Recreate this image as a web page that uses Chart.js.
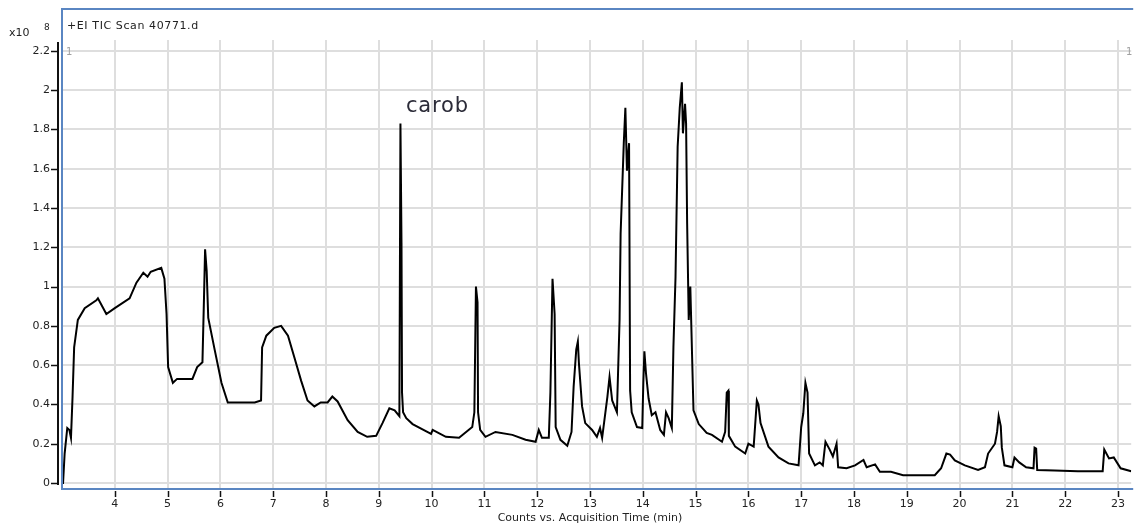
<!DOCTYPE html>
<html>
<head>
<meta charset="utf-8">
<script src="https://cdn.jsdelivr.net/npm/chart.js@4/dist/chart.umd.min.js"></script>
<style>
  html, body { margin: 0; padding: 0; background: #fff; }
  #wrap { width: 1134px; height: 528px; position: relative; }
</style>
</head>
<body>
<div id="wrap"><canvas id="tic"></canvas></div>
<script>
// acquisition time (min) and counts (x10^8)
const times = [
  3.00, 3.02, 3.05, 3.10, 3.14, 3.17, 3.20, 3.23, 3.30, 3.43, 3.65, 3.68, 3.84, 4.00, 4.28, 4.41, 4.54, 4.62, 4.68, 4.88,
  4.94, 4.98, 5.01, 5.10, 5.18, 5.47, 5.56, 5.66, 5.69, 5.71, 5.74, 5.77, 5.89, 6.02, 6.14, 6.40, 6.65, 6.77, 6.79, 6.87,
  7.02, 7.15, 7.28, 7.40, 7.53, 7.65, 7.78, 7.90, 8.03, 8.12, 8.22, 8.41, 8.60, 8.78, 8.95, 9.07, 9.20, 9.30, 9.39, 9.41,
  9.43, 9.44, 9.46, 9.52, 9.64, 9.99, 10.02, 10.27, 10.52, 10.77, 10.81, 10.84, 10.87, 10.88, 10.92, 11.02, 11.21, 11.53, 11.78, 11.97,
  12.03, 12.09, 12.22, 12.25, 12.29, 12.33, 12.35, 12.44, 12.57, 12.65, 12.69, 12.74, 12.77, 12.79, 12.85, 12.91, 13.04, 13.13, 13.19, 13.23,
  13.33, 13.37, 13.42, 13.51, 13.56, 13.58, 13.64, 13.67, 13.70, 13.74, 13.76, 13.79, 13.89, 13.99, 14.01, 14.03, 14.06, 14.11, 14.17, 14.24,
  14.33, 14.40, 14.44, 14.49, 14.55, 14.58, 14.62, 14.66, 14.70, 14.74, 14.76, 14.80, 14.82, 14.84, 14.87, 14.90, 14.96, 15.06, 15.21, 15.31,
  15.50, 15.56, 15.59, 15.62, 15.63, 15.75, 15.94, 16.00, 16.10, 16.16, 16.19, 16.23, 16.38, 16.57, 16.76, 16.95, 17.00, 17.04, 17.08, 17.12,
  17.15, 17.26, 17.35, 17.41, 17.46, 17.54, 17.60, 17.67, 17.70, 17.86, 18.02, 18.18, 18.24, 18.40, 18.49, 18.70, 18.93, 19.53, 19.65, 19.75,
  19.82, 19.91, 20.10, 20.35, 20.48, 20.54, 20.67, 20.71, 20.74, 20.78, 20.80, 20.85, 21.00, 21.04, 21.13, 21.26, 21.40, 21.42, 21.45, 21.47,
  21.80, 22.24, 22.71, 22.74, 22.83, 22.92, 23.05, 23.25
];
const counts = [
  0.00, 0.00, 0.15, 0.28, 0.27, 0.23, 0.44, 0.69, 0.83, 0.89, 0.93, 0.94, 0.86, 0.89, 0.94, 1.02, 1.07, 1.05, 1.075, 1.095,
  1.04, 0.86, 0.59, 0.51, 0.53, 0.53, 0.59, 0.615, 0.95, 1.19, 1.08, 0.84, 0.68, 0.51, 0.41, 0.41, 0.41, 0.42, 0.69, 0.75,
  0.79, 0.80, 0.75, 0.64, 0.52, 0.42, 0.39, 0.41, 0.41, 0.44, 0.415, 0.32, 0.26, 0.235, 0.24, 0.305, 0.38, 0.37, 0.34, 1.83,
  1.22, 0.46, 0.36, 0.33, 0.30, 0.25, 0.27, 0.235, 0.23, 0.285, 0.36, 1.00, 0.92, 0.36, 0.27, 0.235, 0.26, 0.245, 0.22, 0.21,
  0.27, 0.23, 0.23, 0.46, 1.04, 0.86, 0.285, 0.22, 0.19, 0.26, 0.49, 0.68, 0.72, 0.61, 0.39, 0.305, 0.27, 0.235, 0.28, 0.23,
  0.44, 0.54, 0.42, 0.36, 0.83, 1.27, 1.73, 1.91, 1.59, 1.73, 0.47, 0.36, 0.285, 0.28, 0.51, 0.67, 0.56, 0.43, 0.345, 0.36,
  0.27, 0.245, 0.36, 0.33, 0.28, 0.69, 1.05, 1.71, 1.91, 2.04, 1.78, 1.93, 1.83, 1.32, 0.83, 1.00, 0.37, 0.30, 0.255, 0.245,
  0.21, 0.26, 0.46, 0.47, 0.24, 0.185, 0.15, 0.20, 0.185, 0.42, 0.40, 0.305, 0.185, 0.13, 0.10, 0.09, 0.285, 0.355, 0.51, 0.46,
  0.15, 0.09, 0.105, 0.09, 0.21, 0.17, 0.135, 0.20, 0.08, 0.075, 0.09, 0.117, 0.08, 0.095, 0.057, 0.057, 0.04, 0.04, 0.075, 0.15,
  0.145, 0.115, 0.09, 0.066, 0.08, 0.15, 0.20, 0.26, 0.34, 0.29, 0.18, 0.09, 0.08, 0.13, 0.105, 0.08, 0.075, 0.18, 0.175, 0.066,
  0.064, 0.06, 0.06, 0.17, 0.125, 0.13, 0.075, 0.06
];
const xTicks = [4, 5, 6, 7, 8, 9, 10, 11, 12, 13, 14, 15, 16, 17, 18, 19, 20, 21, 22, 23];
const yTicks = [0, 0.2, 0.4, 0.6, 0.8, 1, 1.2, 1.4, 1.6, 1.8, 2, 2.2];

const FONT = '"DejaVu Sans", "Liberation Sans", sans-serif';

// frame, axis line, tick marks and the loose texts of the instrument plot
const decorations = {
  id: 'decorations',
  afterDraw(chart) {
    const ctx = chart.ctx;
    const ca = chart.chartArea;
    const xs = chart.scales.x, ys = chart.scales.y;
    ctx.save();

    // black y axis line and its ticks
    ctx.strokeStyle = '#111';
    ctx.lineWidth = 2;
    ctx.beginPath();
    ctx.moveTo(58, ca.top + 2);
    ctx.lineTo(58, ys.getPixelForValue(0) + 2);
    ctx.stroke();
    ctx.lineWidth = 1.5;
    yTicks.forEach(v => {
      const y = Math.round(ys.getPixelForValue(v)) + 0.5;
      ctx.beginPath(); ctx.moveTo(51, y); ctx.lineTo(58, y); ctx.stroke();
    });
    xTicks.forEach(v => {
      const x = Math.round(xs.getPixelForValue(v)) + 0.5;
      ctx.beginPath(); ctx.moveTo(x, ca.bottom + 2); ctx.lineTo(x, ca.bottom + 8); ctx.stroke();
    });

    // blue frame
    ctx.strokeStyle = '#5a86c2';
    ctx.lineWidth = 2;
    ctx.beginPath();
    ctx.moveTo(ca.right + 2, 9);
    ctx.lineTo(62, 9);
    ctx.lineTo(62, ca.bottom);
    ctx.lineTo(ca.right + 2, ca.bottom);
    ctx.stroke();

    // texts
    ctx.fillStyle = '#222';
    ctx.textBaseline = 'alphabetic';
    ctx.textAlign = 'left';
    ctx.font = '11px ' + FONT;
    ctx.fillText('x10', 9, 36);
    ctx.font = '9px ' + FONT;
    ctx.fillText('8', 44, 30);
    ctx.font = '11px ' + FONT;
    ctx.letterSpacing = '0.6px';
    ctx.fillText('+EI TIC Scan 40771.d', 67, 29);
    ctx.letterSpacing = '0px';

    ctx.fillStyle = '#a0a0a0';
    ctx.font = '10px ' + FONT;
    ctx.fillText('1', 66, 55);
    ctx.fillText('1', 1126, 55);

    ctx.fillStyle = '#2b2b38';
    ctx.font = '21px ' + FONT;
    ctx.letterSpacing = '0.8px';
    ctx.fillText('carob', 406, 112);
    ctx.letterSpacing = '0px';

    ctx.fillStyle = '#222';
    ctx.font = '11px ' + FONT;
    ctx.textAlign = 'center';
    ctx.fillText('Counts vs. Acquisition Time (min)', 590, 521);
    ctx.restore();
  }
};

new Chart(document.getElementById('tic'), {
  type: 'line',
  data: {
    datasets: [{
      data: times.map((t, i) => ({ x: t, y: counts[i] })),
      borderColor: '#000',
      borderWidth: 2,
      pointRadius: 0,
      tension: 0,
      fill: false
    }]
  },
  options: {
    responsive: true,
    maintainAspectRatio: false,
    animation: false,
    layout: { padding: { top: 40, right: 1, left: 0, bottom: 0 } },
    plugins: { legend: { display: false }, tooltip: { enabled: false } },
    scales: {
      x: {
        type: 'linear',
        min: 3.0,
        max: 23.25,
        afterBuildTicks: scale => { scale.ticks = xTicks.map(v => ({ value: v })); },
        afterFit: scale => { scale.height = 39; },
        border: { display: false },
        grid: { color: '#dedede', lineWidth: 2, drawTicks: false },
        ticks: {
          color: '#222',
          padding: 9,
          maxRotation: 0,
          autoSkip: false,
          font: { family: FONT, size: 11 }
        }
      },
      y: {
        min: -0.0305,
        max: 2.255,
        afterBuildTicks: scale => { scale.ticks = yTicks.map(v => ({ value: v })); },
        afterFit: scale => { scale.width = 62; },
        border: { display: false },
        grid: { color: '#dedede', lineWidth: 2, drawTicks: false },
        ticks: {
          color: '#222',
          padding: 12,
          autoSkip: false,
          font: { family: FONT, size: 11 },
          callback: v => String(parseFloat(v.toFixed(1)))
        }
      }
    }
  },
  plugins: [decorations]
});
</script>
</body>
</html>
